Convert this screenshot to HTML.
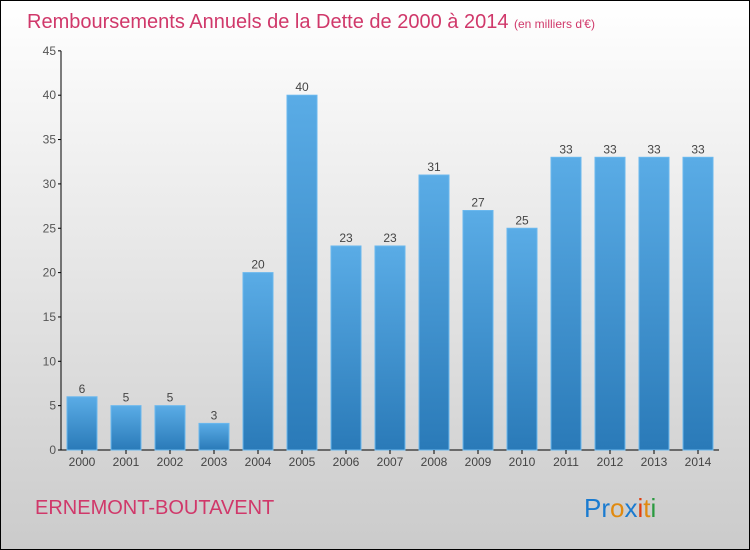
<!DOCTYPE html>
<html><head><meta charset="utf-8"><style>
body{margin:0}
#c{width:748px;height:548px;border:1px solid #000;background:linear-gradient(#fff,#cbcbcb);position:relative;font-family:"Liberation Sans",sans-serif}
</style></head><body>
<div id="c">
<svg id="s" width="748" height="548" style="position:absolute;left:0;top:0">
<defs><linearGradient id="g" x1="0" y1="0" x2="0" y2="1"><stop offset="0" stop-color="#5aace6"/><stop offset="1" stop-color="#2a7ab8"/></linearGradient></defs>
<text x="26" y="27" font-size="20" fill="#d0386a">Remboursements Annuels de la Dette de 2000 à 2014 <tspan font-size="12">  (en milliers d'€)</tspan></text>
<text x="34" y="513" font-size="20" fill="#d0386a">ERNEMONT-BOUTAVENT</text>
<text x="583" y="516" font-size="26"><tspan fill="#1a7bd0">Pr</tspan><tspan fill="#e08a10">o</tspan><tspan fill="#1a7bd0">x</tspan><tspan fill="#e04010">i</tspan><tspan fill="#e08a10">t</tspan><tspan fill="#2a9a40">i</tspan></text>
<g id="plot"></g>
</svg></div>
<script>
const categories=["2000","2001","2002","2003","2004","2005","2006","2007","2008","2009","2010","2011","2012","2013","2014"];
const values=[6,5,5,3,20,40,23,23,31,27,25,33,33,33,33];
const ticks=[0,5,10,15,20,25,30,35,40,45];
const ns="http://www.w3.org/2000/svg";
const g=document.getElementById('plot');
const y=v=>449-v*8.87;
const x=i=>81+i*44;
function el(t,a,txt){const e=document.createElementNS(ns,t);for(const k in a)e.setAttribute(k,a[k]);if(txt!==undefined)e.textContent=txt;g.appendChild(e);return e;}
const ax=el('line',{x1:60,y1:y(45),x2:60,y2:449,stroke:'#000'});


const xa=el('line',{x1:60,y1:449,x2:718,y2:449,stroke:'#000'});


ticks.forEach(t=>{
  const l=el('line',{x1:57,y1:y(t),x2:60,y2:y(t),stroke:'#000'});
  
  
  const tx=el('text',{x:55,y:y(t)+4,'font-size':12,fill:'#555','text-anchor':'end'},t);
  
  
});
categories.forEach((c,i)=>{
  const v=values[i];
  const r=el('rect',{x:x(i)-15,y:y(v),width:30,height:449-y(v),fill:'url(#g)',stroke:'#6ab8ee','stroke-width':1});
  
  
  const vl=el('text',{x:x(i),y:y(v)-4,'font-size':12,fill:'#444','text-anchor':'middle'},v);
  
  
  const tk=el('line',{x1:x(i),y1:449,x2:x(i),y2:453,stroke:'#000'});
  
  
  const cl=el('text',{x:x(i),y:465,'font-size':12,fill:'#444','text-anchor':'middle'},c);
  
  
});
</script>
</body></html>
